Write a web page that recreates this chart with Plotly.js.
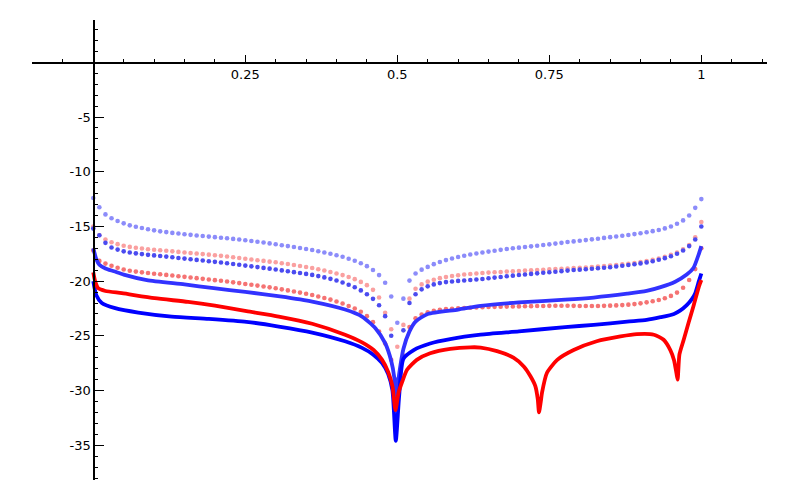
<!DOCTYPE html>
<html>
<head>
<meta charset="utf-8">
<script src="https://cdn.plot.ly/plotly-3.0.1.min.js"></script>
<style>
  html, body { margin: 0; padding: 0; background: #fff; }
  #chart { width: 800px; height: 500px; }
</style>
</head>
<body>
<div id="chart"></div>
<script>
// sample positions of the dotted series
var dotX = [0, 0.01, 0.02, 0.03, 0.04, 0.05, 0.06, 0.07, 0.08, 0.09,
  0.1, 0.11, 0.12, 0.13, 0.14, 0.15, 0.16, 0.17, 0.18, 0.19,
  0.2, 0.21, 0.22, 0.23, 0.24, 0.25, 0.26, 0.27, 0.28, 0.29,
  0.3, 0.31, 0.32, 0.33, 0.34, 0.35, 0.36, 0.37, 0.38, 0.39,
  0.4, 0.41, 0.42, 0.43, 0.44, 0.45, 0.46, 0.47, 0.48, 0.49,
  0.5, 0.51, 0.52, 0.53, 0.54, 0.55, 0.56, 0.57, 0.58, 0.59,
  0.6, 0.61, 0.62, 0.63, 0.64, 0.65, 0.66, 0.67, 0.68, 0.69,
  0.7, 0.71, 0.72, 0.73, 0.74, 0.75, 0.76, 0.77, 0.78, 0.79,
  0.8, 0.81, 0.82, 0.83, 0.84, 0.85, 0.86, 0.87, 0.88, 0.89,
  0.9, 0.91, 0.92, 0.93, 0.94, 0.95, 0.96, 0.97, 0.98, 0.99, 1];

var lightBlueY = [-12.4, -13.25, -13.9, -14.25, -14.5, -14.72, -14.9, -15.03, -15.15, -15.26,
  -15.36, -15.45, -15.52, -15.59, -15.65, -15.71, -15.77, -15.83, -15.88, -15.93,
  -15.98, -16.03, -16.08, -16.14, -16.2, -16.26, -16.33, -16.4, -16.47, -16.55,
  -16.63, -16.72, -16.8, -16.88, -16.97, -17.06, -17.16, -17.27, -17.38, -17.5,
  -17.63, -17.77, -17.95, -18.14, -18.36, -18.63, -18.98, -19.45, -20.15, -21.4,
  -23.8, -21.6, -19.95, -19.3, -18.95, -18.7, -18.45, -18.25, -18.08, -17.93,
  -17.8, -17.68, -17.57, -17.47, -17.38, -17.3, -17.22, -17.14, -17.07, -17.0,
  -16.94, -16.88, -16.82, -16.76, -16.7, -16.64, -16.57, -16.5, -16.43, -16.37,
  -16.31, -16.25, -16.18, -16.12, -16.05, -15.98, -15.92, -15.85, -15.78, -15.7,
  -15.62, -15.53, -15.43, -15.32, -15.18, -15.0, -14.75, -14.45, -14.0, -13.3, -12.5];

var lightRedY = [-15.0, -15.8, -16.2, -16.45, -16.62, -16.77, -16.87, -16.95, -17.02, -17.08,
  -17.13, -17.18, -17.23, -17.28, -17.33, -17.38, -17.43, -17.48, -17.53, -17.58,
  -17.63, -17.69, -17.75, -17.82, -17.89, -17.96, -18.02, -18.09, -18.15, -18.22,
  -18.28, -18.36, -18.44, -18.53, -18.62, -18.71, -18.8, -18.91, -19.03, -19.16,
  -19.3, -19.45, -19.62, -19.82, -20.07, -20.37, -20.8, -21.5, -22.9, -24.4,
  -26.0, -24.0, -21.6, -20.7, -20.3, -20.05, -19.88, -19.73, -19.62, -19.53,
  -19.46, -19.4, -19.35, -19.3, -19.26, -19.22, -19.19, -19.16, -19.13, -19.1,
  -19.07, -19.04, -19.01, -18.98, -18.96, -18.93, -18.9, -18.87, -18.84, -18.81,
  -18.78, -18.75, -18.71, -18.67, -18.63, -18.58, -18.53, -18.47, -18.41, -18.34,
  -18.26, -18.17, -18.06, -17.93, -17.77, -17.6, -17.38, -17.1, -16.7, -16.0, -14.6];

var midBlueY = [-15.2, -15.8, -16.5, -16.92, -17.12, -17.28, -17.38, -17.46, -17.53, -17.6,
  -17.65, -17.7, -17.76, -17.82, -17.88, -17.94, -18.0, -18.06, -18.12, -18.18,
  -18.24, -18.3, -18.37, -18.44, -18.51, -18.58, -18.65, -18.72, -18.79, -18.86,
  -18.94, -19.02, -19.1, -19.18, -19.26, -19.34, -19.43, -19.54, -19.66, -19.79,
  -19.94, -20.12, -20.33, -20.56, -20.85, -21.2, -21.62, -22.2, -23.2, -25.0,
  -29.0, -24.5, -22.0, -21.2, -20.75, -20.48, -20.3, -20.18, -20.09, -20.03,
  -19.98, -19.94, -19.9, -19.85, -19.8, -19.74, -19.68, -19.62, -19.56, -19.5,
  -19.44, -19.39, -19.34, -19.29, -19.24, -19.19, -19.14, -19.09, -19.04, -18.99,
  -18.95, -18.91, -18.87, -18.83, -18.78, -18.73, -18.67, -18.6, -18.53, -18.46,
  -18.38, -18.29, -18.18, -18.05, -17.9, -17.73, -17.5, -17.2, -16.8, -16.2, -15.0];

var midRedY = [-17.2, -18.15, -18.4, -18.6, -18.78, -18.94, -19.05, -19.13, -19.2, -19.26,
  -19.32, -19.37, -19.43, -19.49, -19.55, -19.61, -19.67, -19.73, -19.79, -19.85,
  -19.91, -19.97, -20.04, -20.11, -20.18, -20.26, -20.33, -20.41, -20.49, -20.57,
  -20.65, -20.75, -20.85, -20.95, -21.05, -21.16, -21.27, -21.4, -21.54, -21.69,
  -21.86, -22.05, -22.27, -22.5, -22.8, -23.2, -23.75, -24.6, -25.7, -27.2,
  -29.5, -26.8, -24.2, -23.4, -23.05, -22.85, -22.72, -22.62, -22.56, -22.52,
  -22.49, -22.46, -22.43, -22.41, -22.39, -22.37, -22.35, -22.34, -22.33, -22.32,
  -22.31, -22.3, -22.29, -22.28, -22.27, -22.26, -22.25, -22.25, -22.25, -22.26,
  -22.27, -22.28, -22.28, -22.27, -22.26, -22.24, -22.22, -22.19, -22.15, -22.1,
  -22.03, -21.94, -21.84, -21.72, -21.56, -21.35, -21.05, -20.6, -19.9, -18.9, -17.0];

// dense series, drawn as thick curves
var solidMidBlueX = [0, 0.005, 0.01, 0.02, 0.034, 0.05, 0.088, 0.15, 0.198, 0.25, 0.307, 0.36,
  0.414, 0.442, 0.464, 0.48, 0.49, 0.495, 0.498, 0.503, 0.51, 0.52, 0.53, 0.55, 0.6, 0.637,
  0.7, 0.776, 0.823, 0.878, 0.91, 0.933, 0.957, 0.976, 0.987, 0.996, 1];
var solidMidBlueY = [-17.0, -18.0, -18.5, -18.85, -19.1, -19.4, -19.9, -20.3, -20.65, -20.98, -21.4, -21.87,
  -22.6, -23.24, -24.3, -25.67, -27.3, -28.8, -30.8, -28.5, -26.2, -24.6, -23.7, -23.0, -22.6, -22.26,
  -21.95, -21.7, -21.5, -21.15, -20.9, -20.55, -20.05, -19.4, -18.8, -17.5, -16.8];

var solidRedX = [0, 0.003, 0.008, 0.02, 0.047, 0.101, 0.156, 0.2, 0.252, 0.305, 0.36, 0.414,
  0.442, 0.461, 0.475, 0.485, 0.492, 0.497, 0.502, 0.508, 0.516, 0.532, 0.554, 0.587, 0.62,
  0.637, 0.664, 0.691, 0.708, 0.719, 0.727, 0.731, 0.733, 0.736, 0.738, 0.746, 0.763, 0.79,
  0.828, 0.867, 0.894, 0.922, 0.938, 0.949, 0.955, 0.959, 0.961, 0.964, 0.971, 0.979, 0.987,
  0.996, 1];
var solidRedY = [-19.2, -20.0, -20.65, -20.9, -21.1, -21.56, -21.9, -22.25, -22.75, -23.24, -23.9, -24.9,
  -25.6, -26.3, -27.2, -28.3, -29.6, -31.8, -30.2, -29.2, -28.1, -27.2, -26.6, -26.2, -26.05,
  -26.07, -26.4, -27.0, -27.8, -28.7, -29.6, -30.8, -32.0, -31.0, -30.2, -28.4, -27.2, -26.3,
  -25.5, -25.06, -24.85, -24.9, -25.36, -26.3, -27.2, -28.4, -29.0, -26.7, -25.36, -23.8, -22.3,
  -20.5, -19.9];

var solidBlueX = [0, 0.005, 0.014, 0.036, 0.074, 0.129, 0.19, 0.252, 0.305, 0.36, 0.414, 0.442,
  0.46, 0.475, 0.485, 0.492, 0.4975, 0.503, 0.51, 0.527, 0.554, 0.587, 0.637, 0.7, 0.776,
  0.823, 0.878, 0.91, 0.933, 0.955, 0.965, 0.976, 0.985, 0.99, 0.996, 1];
var solidBlueY = [-20.0, -21.3, -22.0, -22.47, -22.87, -23.24, -23.45, -23.72, -24.15, -24.7, -25.5, -26.1,
  -26.7, -27.5, -28.5, -30.0, -34.6, -30.5, -27.1, -26.3, -25.7, -25.3, -24.9, -24.6, -24.2,
  -24.0, -23.7, -23.55, -23.3, -23.0, -22.7, -22.2, -21.6, -21.1, -20.0, -19.3];

var xTickVals = [0.25, 0.5, 0.75, 1];
var xTickText = ['0.25', '0.5', '0.75', '1'];
var yTickVals = [-35, -30, -25, -20, -15, -10, -5];
var yTickText = ['-35', '-30', '-25', '-20', '-15', '-10', '-5'];

var xRange = [-0.1008, 1.108];
var yRange = [-38.18, 3.87];

function dotTrace(y, color) {
  return {
    x: dotX, y: y, type: 'scatter', mode: 'markers',
    marker: { color: color, size: 4.6, line: { width: 0 } },
    hoverinfo: 'skip', showlegend: false
  };
}

function curveTrace(x, y, color) {
  return {
    x: x, y: y, type: 'scatter', mode: 'lines',
    line: { color: color, width: 3.8, shape: 'spline', smoothing: 0.6 },
    hoverinfo: 'skip', showlegend: false
  };
}

var traces = [
  dotTrace(lightBlueY, 'rgb(140,140,250)'),
  dotTrace(lightRedY, 'rgb(250,160,160)'),
  dotTrace(midBlueY, 'rgb(75,75,240)'),
  dotTrace(midRedY, 'rgb(245,115,115)'),
  curveTrace(solidMidBlueX, solidMidBlueY, 'rgb(50,50,255)'),
  curveTrace(solidBlueX, solidBlueY, 'rgb(0,0,255)'),
  curveTrace(solidRedX, solidRedY, 'rgb(255,0,0)')
];

var tickFont = { family: 'DejaVu Sans, sans-serif', size: 13, color: '#000' };

var layout = {
  width: 800,
  height: 500,
  margin: { l: 32, r: 33, t: 20, b: 20 },
  paper_bgcolor: '#fff',
  plot_bgcolor: '#fff',
  showlegend: false,
  xaxis: {
    range: xRange,
    anchor: 'free',
    position: (0 - yRange[0]) / (yRange[1] - yRange[0]),
    showgrid: false,
    zeroline: false,
    showline: true,
    linecolor: '#000',
    linewidth: 1.3,
    tickmode: 'array',
    tickvals: xTickVals,
    ticktext: xTickText,
    ticks: 'inside',
    ticklen: 7,
    tickwidth: 1,
    tickcolor: '#000',
    tickfont: tickFont,
    minor: { dtick: 0.05, tick0: 0, ticks: 'inside', ticklen: 3, tickwidth: 1, tickcolor: '#000', showgrid: false },
    fixedrange: true
  },
  yaxis: {
    range: yRange,
    anchor: 'free',
    position: (0 - xRange[0]) / (xRange[1] - xRange[0]),
    showgrid: false,
    zeroline: false,
    showline: true,
    linecolor: '#000',
    linewidth: 1.3,
    tickmode: 'array',
    tickvals: yTickVals,
    ticktext: yTickText,
    ticks: 'inside',
    ticklen: 9,
    tickwidth: 1,
    tickcolor: '#000',
    tickfont: tickFont,
    minor: { dtick: 1, tick0: 0, ticks: 'inside', ticklen: 3, tickwidth: 1, tickcolor: '#000', showgrid: false },
    fixedrange: true
  }
};

Plotly.newPlot('chart', traces, layout, { staticPlot: true, displayModeBar: false });
</script>
</body>
</html>
